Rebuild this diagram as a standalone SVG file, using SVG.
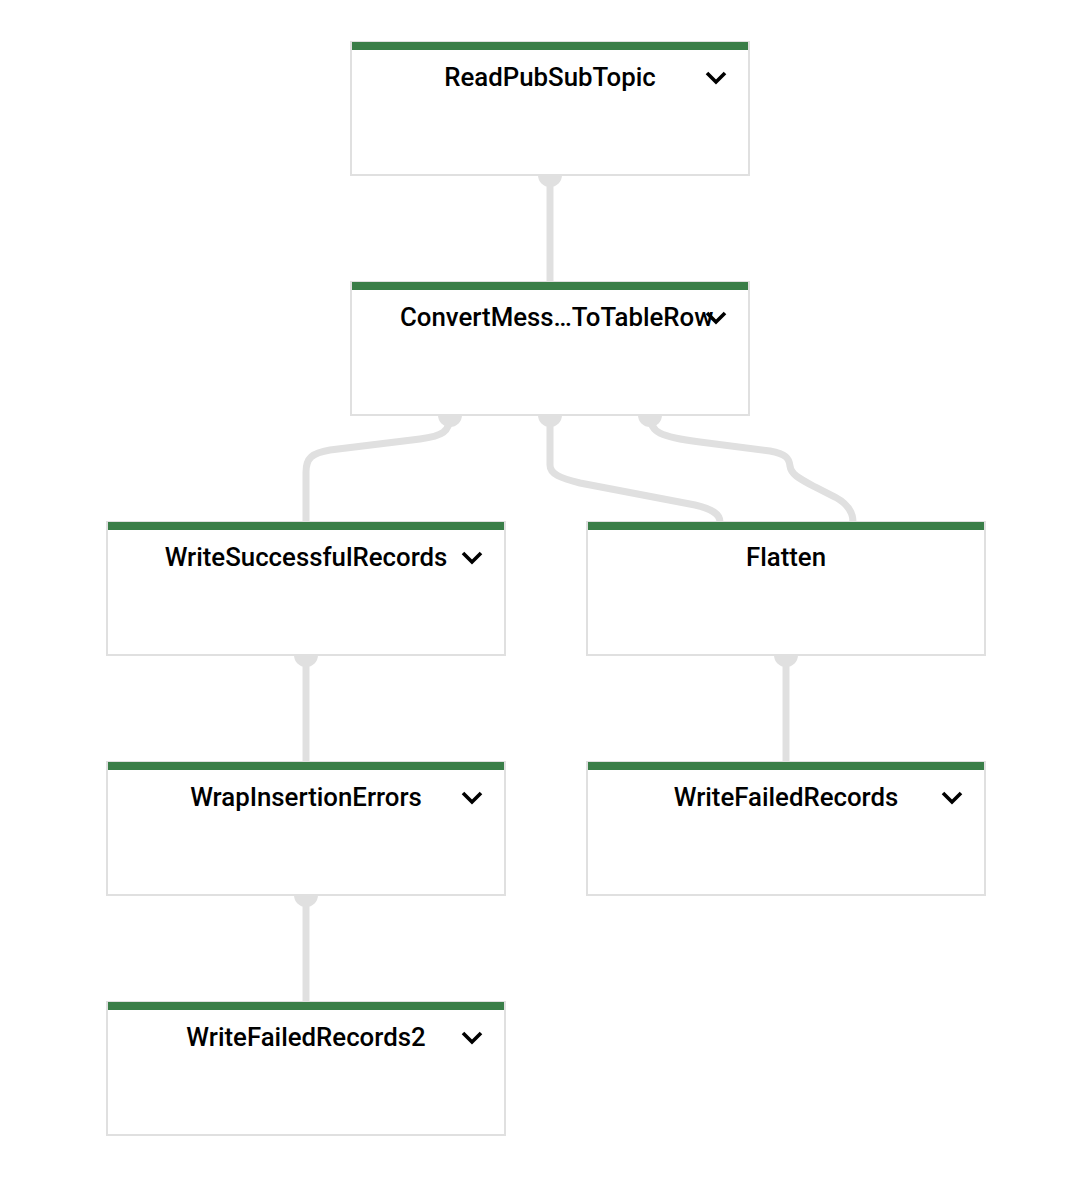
<svg xmlns="http://www.w3.org/2000/svg" width="1088" height="1194" viewBox="0 0 1088 1194">
<style>
.box{fill:#ffffff;stroke:#e0e0e0;stroke-width:2}
.bar{fill:#3a7e48}
.lbl{font-family:Roboto,"Liberation Sans",sans-serif;font-weight:500;font-size:25.8px;fill:#000;text-anchor:middle}
.chev{fill:none;stroke:#000;stroke-width:3.6;stroke-linecap:butt;stroke-linejoin:miter}
.edge{fill:none;stroke:#e0e0e0;stroke-width:7}
.port{fill:#e0e0e0}
</style>
<rect width="1088" height="1194" fill="#ffffff"/>
<g id="connectors">
<path class="edge" d="M550,176 L550,283"/>
<path class="edge" d="M450,416 C450,432 442,436 420,439 L330,450 C312,453 306,458 306,472 L306,522"/>
<path class="edge" d="M550,416 L550,465 C550,474 560,478 580,483 L695,505 C712,509 720,514 720,522"/>
<path class="edge" d="M650,416 C650,432 660,437 700,442 L770,451 C786,454 789,458 790,466 C791,474 798,478 815,487 L835,497 C848,504 853,512 853,522"/>
<path class="edge" d="M306,656 L306,762"/>
<path class="edge" d="M786,656 L786,762"/>
<path class="edge" d="M306,896 L306,1002"/>
<path class="port" d="M538,175 A12,12 0 0 0 562,175 Z"/>
<path class="port" d="M438,415 A12,12 0 0 0 462,415 Z"/>
<path class="port" d="M538,415 A12,12 0 0 0 562,415 Z"/>
<path class="port" d="M638,415 A12,12 0 0 0 662,415 Z"/>
<path class="port" d="M294,655 A12,12 0 0 0 318,655 Z"/>
<path class="port" d="M774,655 A12,12 0 0 0 798,655 Z"/>
<path class="port" d="M294,895 A12,12 0 0 0 318,895 Z"/>
</g>
<g id="node-ReadPubSubTopic">
<rect class="box" x="351" y="42" width="398" height="133"/>
<rect class="bar" x="352" y="42" width="396" height="8"/>
<text class="lbl" x="550" y="86">ReadPubSubTopic</text>
<polyline class="chev" points="707,73 716,82 725,73"/>
</g>
<g id="node-ConvertMessageToTableRow">
<rect class="box" x="351" y="282" width="398" height="133"/>
<rect class="bar" x="352" y="282" width="396" height="8"/>
<text class="lbl" x="400" y="326" style="text-anchor:start">ConvertMess…ToTableRow</text>
<polyline class="chev" points="707,313 716,322 725,313"/>
</g>
<g id="node-WriteSuccessfulRecords">
<rect class="box" x="107" y="522" width="398" height="133"/>
<rect class="bar" x="108" y="522" width="396" height="8"/>
<text class="lbl" x="306" y="566">WriteSuccessfulRecords</text>
<polyline class="chev" points="463,553 472,562 481,553"/>
</g>
<g id="node-Flatten">
<rect class="box" x="587" y="522" width="398" height="133"/>
<rect class="bar" x="588" y="522" width="396" height="8"/>
<text class="lbl" x="786" y="566">Flatten</text>
</g>
<g id="node-WrapInsertionErrors">
<rect class="box" x="107" y="762" width="398" height="133"/>
<rect class="bar" x="108" y="762" width="396" height="8"/>
<text class="lbl" x="306" y="806">WrapInsertionErrors</text>
<polyline class="chev" points="463,793 472,802 481,793"/>
</g>
<g id="node-WriteFailedRecords">
<rect class="box" x="587" y="762" width="398" height="133"/>
<rect class="bar" x="588" y="762" width="396" height="8"/>
<text class="lbl" x="786" y="806">WriteFailedRecords</text>
<polyline class="chev" points="943,793 952,802 961,793"/>
</g>
<g id="node-WriteFailedRecords2">
<rect class="box" x="107" y="1002" width="398" height="133"/>
<rect class="bar" x="108" y="1002" width="396" height="8"/>
<text class="lbl" x="306" y="1046">WriteFailedRecords2</text>
<polyline class="chev" points="463,1033 472,1042 481,1033"/>
</g>
</svg>
